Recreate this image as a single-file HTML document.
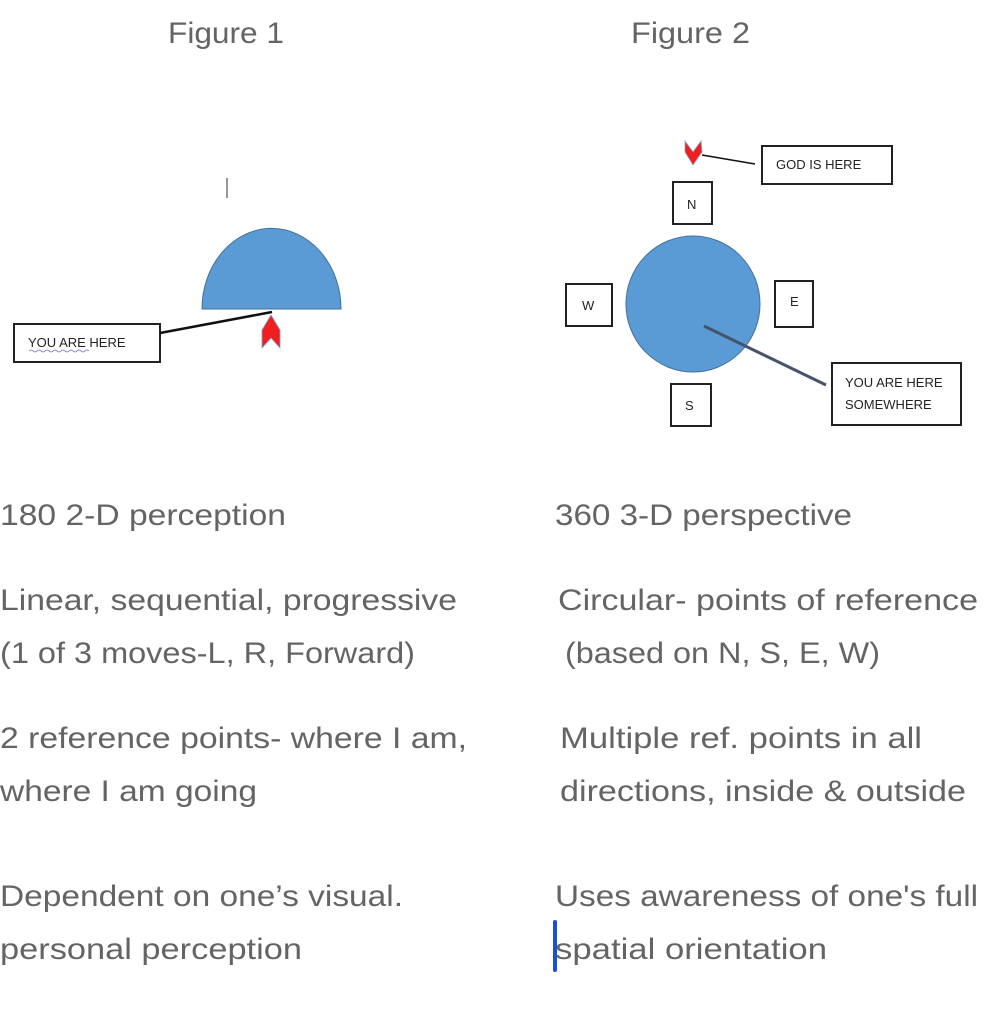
<!DOCTYPE html>
<html><head><meta charset="utf-8"><style>
html,body{margin:0;padding:0;background:#fff;width:990px;height:1024px;overflow:hidden}
svg{display:block}
.t{font-family:"Liberation Sans",sans-serif;font-size:30px;fill:#646464}
.s{font-family:"Liberation Sans",sans-serif;font-size:13px;fill:#222}
</style></head><body>
<svg width="990" height="1024" viewBox="0 0 990 1024" xmlns="http://www.w3.org/2000/svg">
<text class="t" x="168" y="43" textLength="116" lengthAdjust="spacingAndGlyphs">Figure 1</text>
<text class="t" x="631" y="43" textLength="119" lengthAdjust="spacingAndGlyphs">Figure 2</text>

<!-- Figure 1 -->
<line x1="227" y1="178" x2="227" y2="198" stroke="#777" stroke-width="1.5"/>
<path d="M202,309 A69,80 0 0 1 341,309 Z" fill="#5b9bd5" stroke="#41719c" stroke-width="1"/>
<rect x="14" y="324" width="146" height="38" fill="#fff" stroke="#222" stroke-width="2"/>
<text class="s" x="28" y="347">YOU  ARE HERE</text>
<path d="M29,351 q2,-2 4,0 t4,0 t4,0 t4,0 t4,0 t4,0 t4,0 t4,0 t4,0 t4,0 t4,0 t4,0 t4,0 t4,0 t4,0" fill="none" stroke="#6a6acf" stroke-width="0.8"/>
<line x1="160" y1="333" x2="272" y2="312" stroke="#111" stroke-width="2.5"/>
<path d="M271,315 L280,330 L280,348 L271,338 L262,348 L262,330 Z" fill="#f01e1e" stroke="#8aa0c8" stroke-width="0.8"/>

<!-- Figure 2 -->
<path d="M685,141 L693,152 L701,141 L702,152 L693,165 L685,152 Z" fill="#f01e1e" stroke="#8aa0c8" stroke-width="0.8"/>
<line x1="702" y1="155" x2="755" y2="164" stroke="#111" stroke-width="1.5"/>
<rect x="762" y="146" width="130" height="38" fill="#fff" stroke="#222" stroke-width="2"/>
<text class="s" x="776" y="169">GOD IS HERE</text>
<rect x="673" y="182" width="39" height="42" fill="#fff" stroke="#222" stroke-width="2"/>
<text class="s" x="687" y="209">N</text>
<ellipse cx="693" cy="304" rx="67" ry="68" fill="#5b9bd5" stroke="#41719c" stroke-width="1"/>
<rect x="566" y="284" width="46" height="42" fill="#fff" stroke="#222" stroke-width="2"/>
<text class="s" x="582" y="310">W</text>
<rect x="775" y="281" width="38" height="46" fill="#fff" stroke="#222" stroke-width="2"/>
<text class="s" x="790" y="306">E</text>
<rect x="671" y="384" width="40" height="42" fill="#fff" stroke="#222" stroke-width="2"/>
<text class="s" x="685" y="410">S</text>
<line x1="704" y1="326" x2="826" y2="385" stroke="#44546a" stroke-width="3"/>
<rect x="832" y="363" width="129" height="62" fill="#fff" stroke="#222" stroke-width="2"/>
<text class="s" x="845" y="387">YOU ARE HERE</text>
<text class="s" x="845" y="409">SOMEWHERE</text>

<!-- text -->
<text class="t" x="0" y="525" textLength="286" lengthAdjust="spacingAndGlyphs">180 2-D perception</text>
<text class="t" x="555" y="525" textLength="297" lengthAdjust="spacingAndGlyphs">360 3-D perspective</text>
<text class="t" x="0" y="610" textLength="457" lengthAdjust="spacingAndGlyphs">Linear, sequential, progressive</text>
<text class="t" x="0" y="663" textLength="415" lengthAdjust="spacingAndGlyphs">(1 of 3 moves-L, R, Forward)</text>
<text class="t" x="558" y="610" textLength="420" lengthAdjust="spacingAndGlyphs">Circular- points of reference</text>
<text class="t" x="565" y="663" textLength="315" lengthAdjust="spacingAndGlyphs">(based on  N, S, E, W)</text>
<text class="t" x="0" y="748" textLength="467" lengthAdjust="spacingAndGlyphs">2 reference points- where I am,</text>
<text class="t" x="0" y="801" textLength="257" lengthAdjust="spacingAndGlyphs">where I am going</text>
<text class="t" x="560" y="748" textLength="362" lengthAdjust="spacingAndGlyphs">Multiple ref. points in all</text>
<text class="t" x="560" y="801" textLength="406" lengthAdjust="spacingAndGlyphs">directions, inside &amp; outside</text>
<text class="t" x="0" y="906" textLength="403" lengthAdjust="spacingAndGlyphs">Dependent on one’s visual.</text>
<text class="t" x="0" y="959" textLength="302" lengthAdjust="spacingAndGlyphs">personal perception</text>
<text class="t" x="555" y="906" textLength="423" lengthAdjust="spacingAndGlyphs">Uses awareness of one's full</text>
<text class="t" x="555" y="959" textLength="272" lengthAdjust="spacingAndGlyphs">spatial orientation</text>
<rect x="553" y="920" width="4" height="52" rx="2" fill="#1a4fd6"/>
</svg>
</body></html>
